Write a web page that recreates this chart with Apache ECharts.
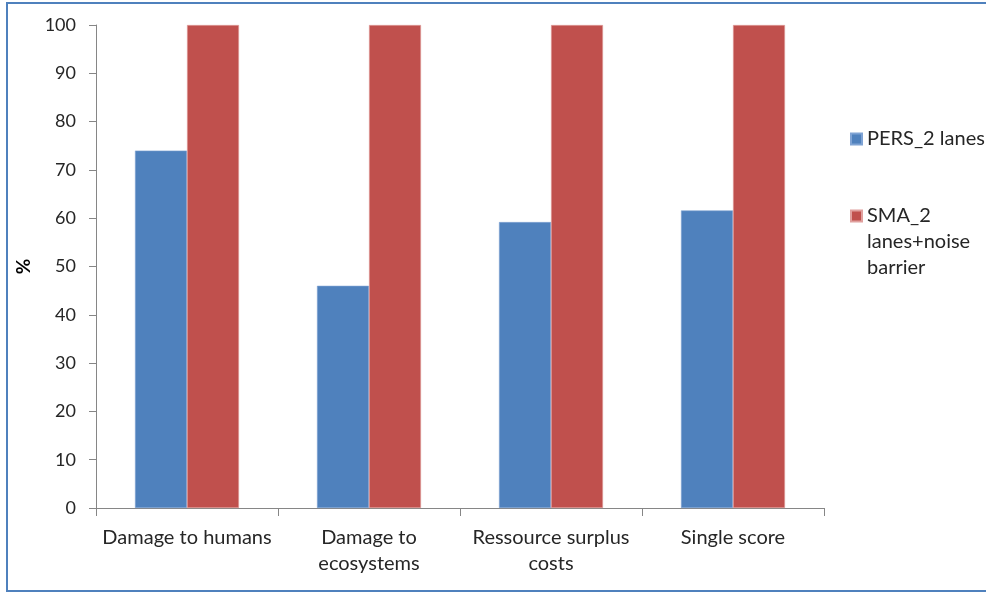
<!DOCTYPE html>
<html>
<head>
<meta charset="utf-8">
<script src="https://cdn.jsdelivr.net/npm/echarts@6/dist/echarts.min.js"></script>
<style>
  html, body { margin: 0; padding: 0; background: #fff; }
  #chart { width: 986px; height: 593px; }
</style>
</head>
<body>
<div id="chart"></div>
<script>
const categories = ['Damage to humans', 'Damage to\necosystems', 'Ressource surplus\ncosts', 'Single score'];
const seriesNames = ['PERS_2 lanes', 'SMA_2 lanes+noise barrier'];
const persValues = [74.0, 46.0, 59.2, 61.6];
const smaValues = [100, 100, 100, 100];
const yTicks = { min: 0, max: 100, interval: 10 };

const FONT = 'Lato';
const TXT = '#262626';
const chart = echarts.init(document.getElementById('chart'), null, { renderer: 'canvas' });
chart.setOption({
  animation: false,
  backgroundColor: '#fff',
  textStyle: { fontFamily: FONT },
  graphic: [{
    type: 'rect', silent: true, z: 100,
    shape: { x: 7, y: 3, width: 1000, height: 588 },
    style: { fill: 'none', stroke: '#4F81BD', lineWidth: 2 }
  }],
  grid: { left: 96, right: 162, top: 25, bottom: 85, containLabel: false },
  legend: [{
    orient: 'vertical', left: 850, top: 126, padding: 0,
    itemWidth: 11, itemHeight: 11,
    icon: 'rect',
    data: [seriesNames[0]],
    textStyle: { fontFamily: FONT, fontSize: 20, color: TXT, lineHeight: 26 }
  }, {
    orient: 'vertical', left: 850, top: 203, padding: 0,
    itemWidth: 11, itemHeight: 63,
    icon: 'path://M0,0L11,0L11,11L0,11ZM0,63L0,63',
    data: [seriesNames[1]],
    formatter: function () { return 'SMA_2\nlanes+noise\nbarrier'; },
    textStyle: { fontFamily: FONT, fontSize: 20, color: TXT, lineHeight: 26 }
  }],
  xAxis: {
    type: 'category',
    data: categories,
    axisLine: { lineStyle: { color: '#868686', width: 1 } },
    axisTick: { show: true, length: 8, lineStyle: { color: '#868686' } },
    axisLabel: { fontFamily: FONT, fontSize: 20, color: TXT, margin: 17, lineHeight: 26, interval: 0 },
    splitLine: { show: false }
  },
  yAxis: {
    type: 'value',
    min: yTicks.min, max: yTicks.max, interval: yTicks.interval,
    name: '%',
    nameLocation: 'middle',
    nameGap: 62,
    nameRotate: 90,
    nameTextStyle: { fontFamily: FONT, fontSize: 19, fontWeight: 'bold', color: '#000' },
    axisLine: { show: true, lineStyle: { color: '#868686', width: 1 } },
    axisTick: { show: true, length: 7, lineStyle: { color: '#868686' } },
    axisLabel: { fontFamily: FONT, fontSize: 18, color: TXT, margin: 20 },
    splitLine: { show: false }
  },
  series: [{
    name: seriesNames[0], type: 'bar', data: persValues,
    barWidth: 52, barGap: '0%',
    itemStyle: { color: '#4F81BD', borderColor: '#7FA3D4', borderWidth: 0.6 }
  }, {
    name: seriesNames[1], type: 'bar', data: smaValues,
    barWidth: 52, barGap: '0%',
    itemStyle: { color: '#C0504D', borderColor: '#E0A09E', borderWidth: 0.6 }
  }]
});
</script>
</body>
</html>
